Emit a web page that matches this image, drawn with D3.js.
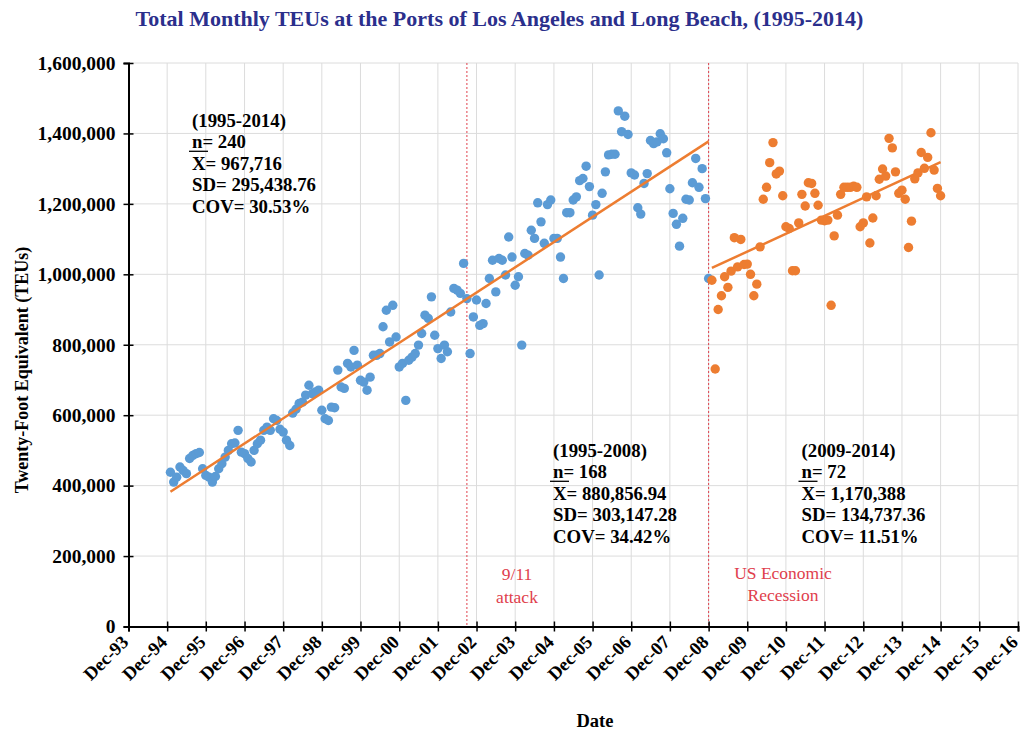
<!DOCTYPE html>
<html>
<head>
<meta charset="utf-8">
<script src="https://cdn.jsdelivr.net/npm/d3@7"></script>
<style>
  body { margin: 0; background: #fff; }
  svg text { font-family: "Liberation Serif", "Times New Roman", serif; }
</style>
</head>
<body>
<svg id="chart" width="1021" height="733"></svg>
<script>
// Monthly TEUs, Ports of Los Angeles + Long Beach
const firstPeriodStart = "1995-01-01";   // Jan 1995 .. Dec 2008 (168 months)
const firstPeriodTEUs = [
  438000, 410000, 424000, 453000, 443000, 434000, 477000, 486000, 491000, 494000, 448000, 429000,
  424000, 410000, 426000, 448000, 462000, 481000, 500000, 519000, 521000, 557000, 495000, 491000,
  477000, 467000, 500000, 519000, 529000, 557000, 566000, 557000, 590000, 585000, 560000, 552000,
  529000, 514000, 606000, 617000, 633000, 637000, 657000, 685000, 661000, 666000, 671000, 614000,
  590000, 585000, 623000, 621000, 728000, 680000, 676000, 747000, 737000, 784000, 742000, 699000,
  694000, 671000, 708000, 770000, 770000, 775000, 851000, 898000, 808000, 912000, 822000, 737000,
  747000, 642000, 756000, 765000, 775000, 799000, 832000, 884000, 875000, 936000, 827000, 789000,
  761000, 799000, 780000, 893000, 960000, 955000, 946000, 1031000, 931000, 775000, 879000, 927000,
  855000, 860000, 917000, 988000, 1040000, 950000, 1045000, 1040000, 998000, 1106000, 1049000, 969000,
  993000, 799000, 1059000, 1054000, 1125000, 1102000, 1203000, 1149000, 1088000, 1198000, 1211000, 1102000,
  1102000, 1049000, 988000, 1175000, 1175000, 1211000, 1220000, 1266000, 1272000, 1307000, 1249000, 1168000,
  1198000, 998000, 1230000, 1291000, 1339000, 1341000, 1341000, 1464000, 1405000, 1449000, 1397000, 1288000,
  1282000, 1189000, 1171000, 1258000, 1286000, 1380000, 1371000, 1376000, 1399000, 1385000, 1345000, 1243000,
  1173000, 1142000, 1080000, 1159000, 1213000, 1211000, 1260000, 1329000, 1247000, 1300000, 1215000, 988000
];

const secondPeriodStart = "2009-01-01";  // Jan 2009 .. Dec 2014 (72 months)
const secondPeriodTEUs = [
  983000, 731000, 900000, 939000, 993000, 963000, 1009000, 1104000, 1021000, 1099000, 1028000, 1029000,
  1000000, 939000, 972000, 1078000, 1213000, 1247000, 1317000, 1374000, 1285000, 1293000, 1223000, 1135000,
  1130000, 1010000, 1010000, 1146000, 1227000, 1194000, 1260000, 1258000, 1230000, 1196000, 1154000, 1152000,
  1154000, 912000, 1109000, 1168000, 1227000, 1247000, 1247000, 1247000, 1250000, 1247000, 1135000, 1146000,
  1220000, 1089000, 1160000, 1223000, 1270000, 1299000, 1279000, 1386000, 1359000, 1291000, 1230000, 1239000,
  1213000, 1076000, 1151000, 1271000, 1288000, 1346000, 1301000, 1332000, 1402000, 1296000, 1244000, 1223000
];

const yTickValues = [0, 200000, 400000, 600000, 800000, 1000000, 1200000, 1400000, 1600000];
const xDomain = ["1993-12-01", "2016-12-01"];

const statsAll    = ["(1995-2014)", "n= 240", "X= 967,716", "SD= 295,438.76", "COV= 30.53%"];
const statsBefore = ["(1995-2008)", "n= 168", "X= 880,856.94", "SD= 303,147.28", "COV= 34.42%"];
const statsAfter  = ["(2009-2014)", "n= 72", "X= 1,170,388", "SD= 134,737.36", "COV= 11.51%"];

const eventLines = [
  { date: "2002-09-01", label: ["9/11", "attack"] },
  { date: "2008-12-01", label: ["US Economic", "Recession"] }
];

const titleText = "Total Monthly TEUs at the Ports of Los Angeles and Long Beach, (1995-2014)";

// ---------------------------------------------------------------
const parse = d3.timeParse("%Y-%m-%d");
const toSeries = (start, values) => {
  const months = d3.timeMonth.range(parse(start), d3.timeMonth.offset(parse(start), values.length));
  return values.map((v, i) => ({ date: months[i], value: v }));
};
const seriesA = toSeries(firstPeriodStart, firstPeriodTEUs);
const seriesB = toSeries(secondPeriodStart, secondPeriodTEUs);

const plot = { left: 128.5, right: 1018, top: 63, bottom: 626.5 };
const svg = d3.select("#chart");

const x = d3.scaleTime().domain(xDomain.map(parse)).range([plot.left, plot.right]);
const y = d3.scaleLinear().domain([0, 1600000]).range([plot.bottom, plot.top]);

const xTickDates = d3.range(1993, 2017).map(yr => new Date(yr, 11, 1));

// grid
const grid = svg.append("g").attr("stroke", "#dcdcdc").attr("stroke-width", 1);
grid.selectAll(".gx").data(xTickDates).join("line")
  .attr("x1", d => x(d)).attr("x2", d => x(d))
  .attr("y1", plot.top).attr("y2", plot.bottom);
grid.selectAll(".gy").data(yTickValues).join("line")
  .attr("x1", plot.left).attr("x2", plot.right)
  .attr("y1", d => y(d)).attr("y2", d => y(d));

// event markers
const evColor = "#e0404c";
eventLines.forEach(ev => {
  const ex = x(parse(ev.date));
  svg.append("line")
    .attr("x1", ex).attr("x2", ex).attr("y1", plot.top).attr("y2", plot.bottom)
    .attr("stroke", evColor).attr("stroke-width", 1).attr("stroke-dasharray", "2,2");
});
const evLabel = (t, lx, ly) => svg.append("text").attr("x", lx).attr("y", ly)
  .attr("text-anchor", "middle").attr("dominant-baseline", "central")
  .attr("fill", evColor).attr("font-size", 17.5).text(t);
evLabel(eventLines[0].label[0], 517, 574);
evLabel(eventLines[0].label[1], 517, 597);
evLabel(eventLines[1].label[0], 783, 573);
evLabel(eventLines[1].label[1], 783, 595);

// scatter points
const dots = (data, color) => svg.append("g").selectAll("circle").data(data).join("circle")
  .attr("cx", d => x(d.date)).attr("cy", d => y(d.value)).attr("r", 4.7).attr("fill", color);
dots(seriesA, "#5b9bd5");
dots(seriesB, "#ed7d31");

// linear trend lines (least squares on time)
const trend = data => {
  const xs = data.map(d => +d.date), ys = data.map(d => d.value);
  const mx = d3.mean(xs), my = d3.mean(ys);
  const b = d3.sum(xs, (v, i) => (v - mx) * (ys[i] - my)) / d3.sum(xs, v => (v - mx) ** 2);
  const a = my - b * mx;
  const ends = [data[0].date, data[data.length - 1].date];
  return ends.map(d => ({ date: d, value: a + b * (+d) }));
};
const line = d3.line().x(d => x(d.date)).y(d => y(d.value));
[seriesA, seriesB].forEach(s => svg.append("path").attr("d", line(trend(s)))
  .attr("fill", "none").attr("stroke", "#ed7d31").attr("stroke-width", 2.5));

// axes
const yAxis = svg.append("g").attr("transform", `translate(${plot.left},0)`)
  .call(d3.axisLeft(y).tickValues(yTickValues).tickSize(5).tickPadding(8).tickFormat(d3.format(",")));
const xAxis = svg.append("g").attr("transform", `translate(0,${plot.bottom})`)
  .call(d3.axisBottom(x).tickValues(xTickDates).tickSize(5).tickFormat(d3.timeFormat("%b-%y")));
[yAxis, xAxis].forEach(g => {
  g.select(".domain").attr("stroke", "#000").attr("stroke-width", 2);
  g.selectAll(".tick line").attr("stroke", "#000").attr("stroke-width", 1.5);
  g.selectAll("text").attr("font-weight", "bold").attr("fill", "#000")
    .style("font-family", '"Liberation Serif", serif');
});
yAxis.selectAll("text").attr("font-size", 19.5);
xAxis.selectAll("text").attr("font-size", 18.5);
yAxis.selectAll(".tick line").attr("x1", 5).attr("x2", -5);
xAxis.selectAll(".tick line").attr("y1", -5).attr("y2", 5);
xAxis.selectAll(".tick text")
  .attr("text-anchor", "end").attr("dy", "0.35em").attr("y", 0)
  .attr("transform", "translate(-4,12) rotate(-45)");

// titles
svg.append("text").attr("x", 499.5).attr("y", 18).attr("text-anchor", "middle")
  .attr("dominant-baseline", "central").attr("font-size", 22).attr("font-weight", "bold")
  .attr("fill", "#2b2f8c").text(titleText);
svg.append("text").attr("x", 595).attr("y", 721).attr("text-anchor", "middle")
  .attr("dominant-baseline", "central").attr("font-size", 18.5).attr("font-weight", "bold")
  .text("Date");
svg.append("text").attr("transform", "translate(22,370) rotate(-90)").attr("text-anchor", "middle")
  .attr("dominant-baseline", "central").attr("font-size", 18).attr("font-weight", "bold")
  .text("Twenty-Foot Equivalent (TEUs)");

// summary statistic blocks
const statBlock = (lines, x0, y0) => {
  const g = svg.append("g");
  lines.forEach((t, i) => g.append("text").attr("x", x0).attr("y", y0 + i * 21.4)
    .attr("dominant-baseline", "central").attr("font-size", 18.8).attr("font-weight", "bold")
    .text(t));
  // bar over the X (sample mean)
  g.append("line").attr("x1", x0 - 3).attr("x2", x0 + 16)
    .attr("y1", y0 + 2 * 21.4 - 12).attr("y2", y0 + 2 * 21.4 - 12)
    .attr("stroke", "#000").attr("stroke-width", 1.3);
};
statBlock(statsAll, 192, 120.5);
statBlock(statsBefore, 553, 450.5);
statBlock(statsAfter, 801.5, 450.5);
</script>
</body>
</html>
